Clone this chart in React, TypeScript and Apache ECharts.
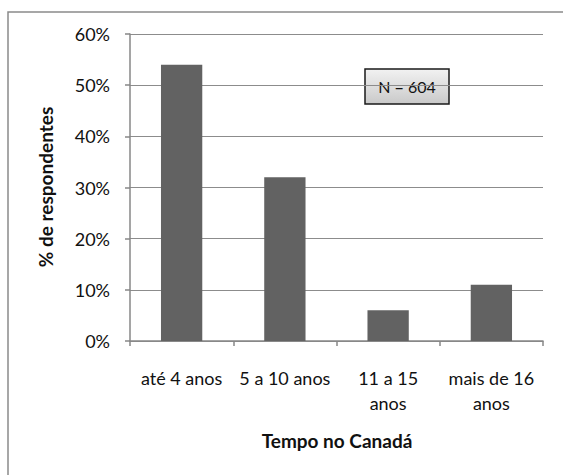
import React, { useEffect, useRef } from "react";
import * as echarts from "echarts";

const categories = ["até 4 anos", "5 a 10 anos", "11 a 15\nanos", "mais de 16\nanos"];
const percentages = [54, 32, 6, 11];
const yTicks = { min: 0, max: 60, interval: 10 };
const sampleNote = "N = 604";
const yTitle = "% de respondentes";
const xTitle = "Tempo no Canadá";

const FONT = "Lato, 'Liberation Sans', sans-serif";

export default function App() {
  const ref = useRef<HTMLDivElement>(null);

  useEffect(() => {
    if (!ref.current) return;
    const chart = echarts.init(ref.current, null, { renderer: "svg" });
    chart.setOption({
      animation: false,
      backgroundColor: "#ffffff",
      textStyle: { fontFamily: FONT },
      grid: { left: 130, right: 20, top: 34, bottom: 134 },
      xAxis: {
        type: "category",
        data: categories,
        axisLine: { show: true, lineStyle: { color: "#878787", width: 1.5 } },
        axisTick: { show: true, length: 5, lineStyle: { color: "#878787", width: 1.5 } },
        axisLabel: {
          interval: 0,
          margin: 24,
          color: "#111111",
          fontSize: 18,
          lineHeight: 25,
          fontFamily: FONT,
        },
      },
      yAxis: {
        type: "value",
        min: yTicks.min,
        max: yTicks.max,
        interval: yTicks.interval,
        axisLine: { show: true, lineStyle: { color: "#878787", width: 1.5 } },
        axisTick: { show: true, length: 5, lineStyle: { color: "#878787", width: 1.5 } },
        axisLabel: {
          formatter: "{value}%",
          margin: 20,
          color: "#111111",
          fontSize: 18,
          fontFamily: FONT,
        },
        splitLine: { show: true, lineStyle: { color: "#8c8c8c", width: 1 } },
      },
      series: [
        {
          type: "bar",
          data: percentages,
          barWidth: "40%",
          itemStyle: { color: "#626262" },
        },
      ],
      graphic: [
        {
          type: "rect",
          shape: { x: 8, y: 12, width: 600, height: 500 },
          style: { fill: "none", stroke: "#8a8a8a", lineWidth: 1.5 },
          z: -10,
          silent: true,
        },
        {
          type: "text",
          rotation: Math.PI / 2,
          x: 45,
          y: 187,
          style: {
            text: yTitle,
            font: `bold 19px ${FONT}`,
            fill: "#111111",
            align: "center",
            verticalAlign: "middle",
          },
        },
        {
          type: "text",
          x: 337,
          y: 440,
          style: {
            text: xTitle,
            font: `bold 19px ${FONT}`,
            fill: "#111111",
            align: "center",
            verticalAlign: "middle",
          },
        },
        {
          type: "group",
          x: 365,
          y: 69,
          children: [
            {
              type: "rect",
              shape: { x: 0, y: 0, width: 84, height: 35 },
              style: {
                fill: new echarts.graphic.LinearGradient(0, 0, 0, 1, [
                  { offset: 0, color: "#f2f2f2" },
                  { offset: 1, color: "#c9c9c9" },
                ]),
                stroke: "#1a1a1a",
                lineWidth: 1.5,
              },
            },
            {
              type: "text",
              x: 42,
              y: 17.5,
              style: {
                text: sampleNote,
                font: `16px ${FONT}`,
                fill: "#111111",
                align: "center",
                verticalAlign: "middle",
              },
            },
          ],
        },
      ],
    });
    return () => chart.dispose();
  }, []);

  return (
    <div
      ref={ref}
      style={{ position: "absolute", left: 0, top: 0, width: 563, height: 475 }}
    />
  );
}
